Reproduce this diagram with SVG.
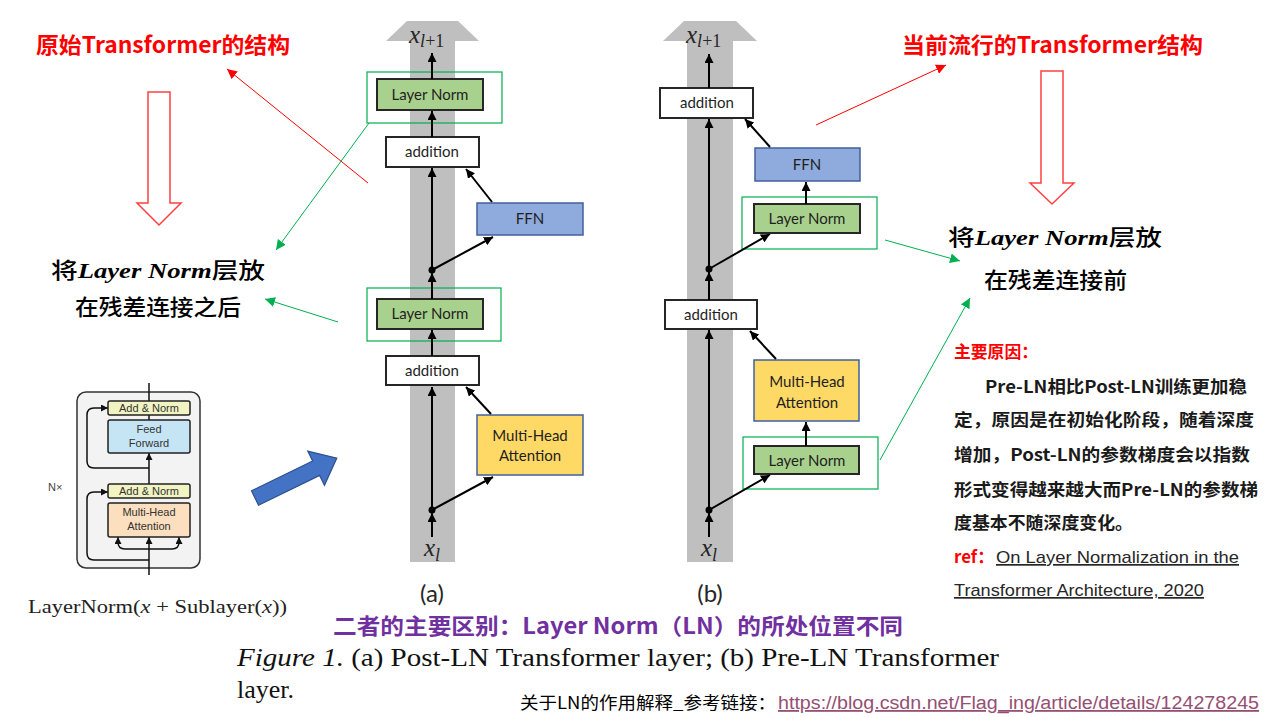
<svg xmlns="http://www.w3.org/2000/svg" width="1275" height="717" viewBox="0 0 1275 717">
<style>
.box{stroke:#262626;stroke-width:2}
.ln{fill:#a9d18e}
.add{fill:#ffffff}
.ffn{fill:#8faadc;stroke:#41609e;stroke-width:1.5}
.mha{fill:#ffd966;stroke:#41609e;stroke-width:1.5}
.hl{fill:none;stroke:#00b050;stroke-width:1.2}
.bt{font-family:Lato,"Liberation Sans",sans-serif;font-size:15px;fill:#1f1f1f;text-anchor:middle}
.col{fill:#bfbfbf}
.blk{stroke:#000;stroke-width:2;fill:none}
.red{stroke:#ff0000;stroke-width:1;fill:none}
.grn{stroke:#00b050;stroke-width:1;fill:none}
.math{font-family:"Liberation Serif",serif;font-style:italic;fill:#262626}
.title{font-family:"Noto Sans CJK SC",sans-serif;font-weight:bold;font-size:22px;fill:#ff0000}
.note{font-family:"Noto Sans CJK SC",sans-serif;font-weight:500;font-size:22px;fill:#000}
.nb{font-family:"Liberation Serif",serif;font-style:italic;font-weight:bold}
.body{font-family:"Noto Sans CJK SC",sans-serif;font-weight:bold;font-size:17px;fill:#1a1a1a}
.ref{font-family:"Liberation Sans",sans-serif;font-size:17px;fill:#262626;text-decoration:underline}
.hollow{fill:#ffffff;stroke:#ff4040;stroke-width:1.5}
.sm{font-family:"Liberation Sans",sans-serif;font-size:11px;fill:#333;text-anchor:middle}
.smb{stroke:#222;stroke-width:1.5}
.sml{stroke:#111;stroke-width:1.5;fill:none}
.lab{font-family:Lato,"Liberation Sans",sans-serif;font-size:24px;fill:#262626;text-anchor:middle}
</style>
<defs>
<marker id="ah" viewBox="0 0 10 10" refX="10" refY="5" markerWidth="9" markerHeight="9" markerUnits="userSpaceOnUse" orient="auto"><path d="M0,0 L10,5 L0,10 z" fill="#000"/></marker>
<marker id="ahr" viewBox="0 0 10 10" refX="10" refY="5" markerWidth="10" markerHeight="10" markerUnits="userSpaceOnUse" orient="auto"><path d="M0,0 L10,5 L0,10 z" fill="#ff0000"/></marker>
<marker id="ahg" viewBox="0 0 10 10" refX="10" refY="5" markerWidth="10" markerHeight="10" markerUnits="userSpaceOnUse" orient="auto"><path d="M0,0 L10,5 L0,10 z" fill="#00b050"/></marker>
<marker id="ahs" viewBox="0 0 10 10" refX="10" refY="5" markerWidth="7" markerHeight="7" markerUnits="userSpaceOnUse" orient="auto"><path d="M0,0 L10,5 L0,10 z" fill="#111"/></marker>
</defs>
<rect width="1275" height="717" fill="#ffffff"/>

<!-- Panel (a) background column -->
<g id="col-a">
<rect class="col" x="410" y="40" width="45" height="522"/>
<polygon class="col" points="386,41 407,21 458,21 479,41"/>
<text class="math" x="409" y="43" font-size="25">x<tspan font-size="18" dy="4">l</tspan><tspan font-size="18" font-style="normal">+1</tspan></text>
<text class="math" x="424" y="556" font-size="25">x<tspan font-size="18" dy="5">l</tspan></text>
<text class="lab" x="432" y="602">(a)</text>
</g>
<!-- Panel (b) background column -->
<g id="col-b">
<rect class="col" x="687" y="40" width="46" height="522"/>
<polygon class="col" points="663,41 684,21 736,21 757,41"/>
<text class="math" x="686" y="43" font-size="25">x<tspan font-size="18" dy="4">l</tspan><tspan font-size="18" font-style="normal">+1</tspan></text>
<text class="math" x="701" y="556" font-size="25">x<tspan font-size="18" dy="5">l</tspan></text>
<text class="lab" x="710" y="602">(b)</text>
</g>

<!-- Panel (a) nodes -->
<g id="a-ln1"><rect class="box ln" x="377" y="79" width="106" height="31"/><text class="bt" x="430" y="100">Layer Norm</text></g>
<g id="a-add1"><rect class="box add" x="386" y="137" width="93" height="30"/><text class="bt" x="432" y="157">addition</text></g>
<g id="a-ffn"><rect class="ffn" x="477" y="203" width="106" height="32"/><text class="bt" x="530" y="224">FFN</text></g>
<g id="a-ln2"><rect class="box ln" x="377" y="299" width="106" height="30"/><text class="bt" x="430" y="319">Layer Norm</text></g>
<g id="a-add2"><rect class="box add" x="386" y="356" width="93" height="29"/><text class="bt" x="432" y="376">addition</text></g>
<g id="a-mha"><rect class="mha" x="477" y="415" width="106" height="60"/><text class="bt" x="530" y="441">Multi-Head</text><text class="bt" x="530" y="461">Attention</text></g>

<!-- Panel (b) nodes -->
<g id="b-add1"><rect class="box add" x="660" y="88" width="93" height="30"/><text class="bt" x="707" y="108">addition</text></g>
<g id="b-ffn"><rect class="ffn" x="755" y="148" width="105" height="33"/><text class="bt" x="807" y="170">FFN</text></g>
<g id="b-ln1"><rect class="box ln" x="754" y="204" width="106" height="29"/><text class="bt" x="807" y="224">Layer Norm</text></g>
<g id="b-add2"><rect class="box add" x="665" y="300" width="92" height="29"/><text class="bt" x="711" y="320">addition</text></g>
<g id="b-mha"><rect class="mha" x="754" y="360" width="105" height="61"/><text class="bt" x="807" y="387">Multi-Head</text><text class="bt" x="807" y="408">Attention</text></g>
<g id="b-ln2"><rect class="box ln" x="754" y="446" width="105" height="28"/><text class="bt" x="807" y="466">Layer Norm</text></g>

<!-- green highlight frames -->
<g id="highlights">
<rect class="hl" x="367" y="72" width="135" height="51"/>
<rect class="hl" x="367" y="288" width="134" height="53"/>
<rect class="hl" x="742" y="197" width="135" height="52"/>
<rect class="hl" x="743" y="437" width="135" height="52"/>
</g>

<!-- connectors -->
<g id="connectors">
<g fill="#000"><circle cx="432" cy="270" r="3.5"/><circle cx="432" cy="510" r="3.5"/><circle cx="709" cy="269" r="3.5"/><circle cx="709" cy="510" r="3.5"/></g>
<g class="blk" marker-end="url(#ah)">
<line x1="432" y1="537" x2="432" y2="513"/>
<line x1="432" y1="510" x2="432" y2="387"/>
<line x1="432" y1="510" x2="493" y2="477"/>
<line x1="491" y1="414" x2="466" y2="387"/>
<line x1="432" y1="356" x2="432" y2="330"/>
<line x1="432" y1="299" x2="432" y2="273"/>
<line x1="432" y1="270" x2="432" y2="168"/>
<line x1="432" y1="270" x2="493" y2="237"/>
<line x1="492" y1="202" x2="466" y2="169"/>
<line x1="432" y1="137" x2="432" y2="111"/>
<line x1="432" y1="79" x2="432" y2="53"/>
<line x1="709" y1="537" x2="709" y2="513"/>
<line x1="709" y1="510" x2="709" y2="330"/>
<line x1="709" y1="510" x2="770" y2="475"/>
<line x1="806" y1="446" x2="806" y2="422"/>
<line x1="776" y1="359" x2="750" y2="331"/>
<line x1="709" y1="300" x2="709" y2="272"/>
<line x1="709" y1="269" x2="709" y2="119"/>
<line x1="709" y1="269" x2="770" y2="234"/>
<line x1="806" y1="204" x2="806" y2="182"/>
<line x1="770" y1="147" x2="745" y2="119"/>
<line x1="709" y1="88" x2="709" y2="54"/>
</g>
<g class="red" marker-end="url(#ahr)">
<line x1="368" y1="183" x2="227" y2="69"/>
<line x1="816" y1="125" x2="946" y2="65"/>
</g>
<g class="grn" marker-end="url(#ahg)">
<line x1="369" y1="123" x2="276" y2="250"/>
<line x1="338" y1="322" x2="265" y2="299"/>
<line x1="885" y1="240" x2="960" y2="261"/>
<line x1="880" y1="460" x2="970" y2="298"/>
</g>
</g>

<!-- hollow red down arrows -->
<g id="down-left"><polygon class="hollow" points="148,92 170,92 170,203 181,203 159,225 137,203 148,203"/></g>
<g id="down-right"><polygon class="hollow" points="1041,71 1063,71 1063,183 1074,183 1052,204 1030,183 1041,183"/></g>

<!-- titles and notes -->
<g id="title-left"><text class="title" x="36" y="53" textLength="254" lengthAdjust="spacingAndGlyphs">原始Transformer的结构</text></g>
<g id="title-right"><text class="title" x="902" y="53" textLength="301" lengthAdjust="spacingAndGlyphs">当前流行的Transformer结构</text></g>
<g id="note-left">
<text class="note" x="51" y="278" textLength="214" lengthAdjust="spacingAndGlyphs">将<tspan class="nb">Layer Norm</tspan>层放</text>
<text class="note" x="75" y="315" textLength="166" lengthAdjust="spacingAndGlyphs">在残差连接之后</text>
</g>
<g id="note-right">
<text class="note" x="948" y="245" textLength="214" lengthAdjust="spacingAndGlyphs">将<tspan class="nb">Layer Norm</tspan>层放</text>
<text class="note" x="984" y="288" textLength="143" lengthAdjust="spacingAndGlyphs">在残差连接前</text>
</g>

<!-- reason block -->
<g id="reason">
<text class="body" x="954" y="358" style="fill:#ff0000" textLength="84" lengthAdjust="spacingAndGlyphs">主要原因：</text>
<text class="body" x="985" y="393" textLength="262" lengthAdjust="spacingAndGlyphs">Pre-LN相比Post-LN训练更加稳</text>
<text class="body" x="954" y="426" textLength="300" lengthAdjust="spacingAndGlyphs">定，原因是在初始化阶段，随着深度</text>
<text class="body" x="954" y="461" textLength="296" lengthAdjust="spacingAndGlyphs">增加，Post-LN的参数梯度会以指数</text>
<text class="body" x="954" y="496" textLength="304" lengthAdjust="spacingAndGlyphs">形式变得越来越大而Pre-LN的参数梯</text>
<text class="body" x="954" y="529" textLength="179" lengthAdjust="spacingAndGlyphs">度基本不随深度变化。</text>
<text class="body" x="954" y="563" style="fill:#ff0000" textLength="40" lengthAdjust="spacingAndGlyphs">ref：</text>
<text class="ref" x="996" y="563" textLength="243" lengthAdjust="spacingAndGlyphs">On Layer Normalization in the</text>
<text class="ref" x="954" y="596" textLength="250" lengthAdjust="spacingAndGlyphs">Transformer Architecture, 2020</text>
</g>

<!-- small original transformer -->
<g id="orig-transformer">
<rect x="77" y="392" width="123" height="176" rx="9" fill="#f3f3f3" stroke="#333" stroke-width="1.5"/>
<line class="sml" x1="149" y1="383" x2="149" y2="401"/>
<line class="sml" x1="149" y1="575" x2="149" y2="537" marker-end="url(#ahs)"/>
<line class="sml" x1="149" y1="498" x2="149" y2="484"/>
<line class="sml" x1="149" y1="484" x2="149" y2="453" marker-end="url(#ahs)"/>
<line class="sml" x1="149" y1="420" x2="149" y2="415"/>
<path class="sml" d="M149,468 H94 Q87,468 87,461 V415 Q87,408 94,408 H108" marker-end="url(#ahs)"/>
<path class="sml" d="M149,560 H94 Q87,560 87,553 V499 Q87,492 94,492 H108" marker-end="url(#ahs)"/>
<path class="sml" d="M149,549 H125 Q118,549 118,542 V537" marker-end="url(#ahs)"/>
<path class="sml" d="M149,549 H172 Q179,549 179,542 V537" marker-end="url(#ahs)"/>
<rect class="smb" x="108" y="401" width="82" height="14" rx="2" fill="#f1f3c2"/>
<text class="sm" x="149" y="412">Add &amp; Norm</text>
<rect class="smb" x="108" y="420" width="82" height="33" rx="2" fill="#c5e5f5"/>
<text class="sm" x="149" y="433">Feed</text><text class="sm" x="149" y="447">Forward</text>
<rect class="smb" x="108" y="484" width="82" height="14" rx="2" fill="#f1f3c2"/>
<text class="sm" x="149" y="495">Add &amp; Norm</text>
<rect class="smb" x="108" y="503" width="82" height="34" rx="2" fill="#fbdfbf"/>
<text class="sm" x="149" y="516">Multi-Head</text><text class="sm" x="149" y="530">Attention</text>
<text x="48" y="491" font-family="'Liberation Sans',sans-serif" font-size="11" fill="#444">N×</text>
<text x="28" y="613" font-family="'Liberation Serif',serif" font-size="19" fill="#222" textLength="259" lengthAdjust="spacingAndGlyphs">LayerNorm(<tspan font-style="italic">x</tspan> + Sublayer(<tspan font-style="italic">x</tspan>))</text>
</g>

<!-- blue block arrow -->
<g id="blue-arrow"><path d="M0,-8 L68,-8 L68,-19 L91,0 L68,19 L68,8 L0,8 Z" transform="translate(255,498) rotate(-26)" fill="#4472c4" stroke="#2f528f" stroke-width="1.2"/></g>

<!-- bottom texts -->
<g id="difference"><text x="333" y="634" font-family="'Noto Sans CJK SC',sans-serif" font-weight="bold" font-size="22" fill="#7030a0" textLength="570" lengthAdjust="spacingAndGlyphs">二者的主要区别：Layer Norm（LN）的所处位置不同</text></g>
<g id="caption">
<text x="237" y="666" font-family="'Liberation Serif',serif" font-size="26" fill="#111" textLength="762" lengthAdjust="spacingAndGlyphs"><tspan font-style="italic">Figure 1.</tspan> (a) Post-LN Transformer layer; (b) Pre-LN Transformer</text>
<text x="237" y="698" font-family="'Liberation Serif',serif" font-size="26" fill="#111">layer.</text>
</g>
<g id="link">
<text x="520" y="709" font-family="'Noto Sans CJK SC',sans-serif" font-size="17" fill="#000" textLength="256" lengthAdjust="spacingAndGlyphs">关于LN的作用解释_参考链接：</text>
<text x="778" y="709" font-family="'Liberation Sans',sans-serif" font-size="18" fill="#954f72" text-decoration="underline" textLength="481" lengthAdjust="spacingAndGlyphs">https://blog.csdn.net/Flag_ing/article/details/124278245</text>
</g>
</svg>
